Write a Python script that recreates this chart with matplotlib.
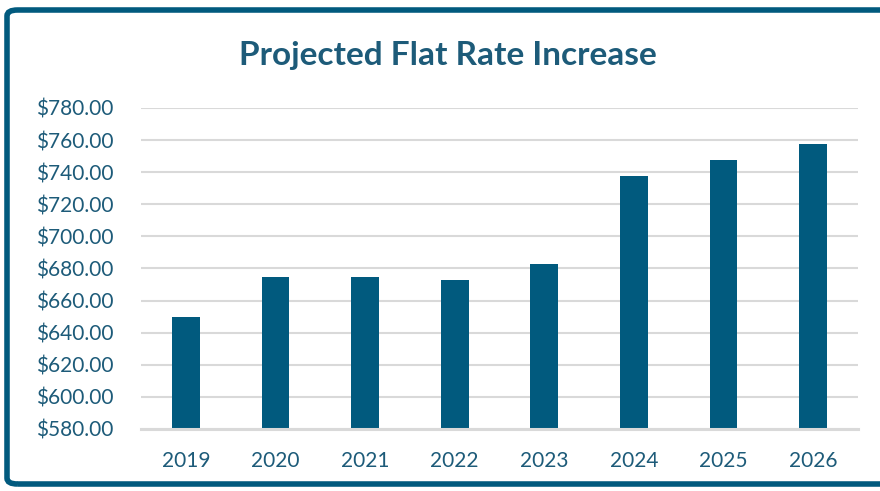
import matplotlib
matplotlib.use("Agg")
import matplotlib.pyplot as plt
from matplotlib.patches import FancyBboxPatch

years = ["2019", "2020", "2021", "2022", "2023", "2024", "2025", "2026"]
rates = [650, 675, 675, 673, 683, 737.5, 747.5, 757.5]
y_ticks = [580, 600, 620, 640, 660, 680, 700, 720, 740, 760, 780]

bar_color = "#015a7e"
text_color = "#1d5b79"
grid_color = "#d9d9d9"

plt.rcParams['font.family'] = ['Lato', 'DejaVu Sans']

fig = plt.figure(figsize=(8.8, 4.91), dpi=100)
ax = fig.add_axes([0.1602, 0.1263, 0.8148, 0.6538])

x = list(range(len(years)))
ax.bar(x, rates, width=0.31, color=bar_color, zorder=3)
ax.set_xlim(-0.5, len(years) - 0.5)
ax.set_ylim(580, 780)
ax.set_yticks(y_ticks)
ax.set_yticklabels([f"${v:,.2f}" for v in y_ticks])
ax.set_xticks(x)
ax.set_xticklabels(years)
ax.tick_params(axis='both', length=0, labelsize=15, labelcolor=text_color)
ax.tick_params(axis='y', pad=20)
ax.tick_params(axis='x', pad=16)
for s in ['top', 'right', 'left']:
    ax.spines[s].set_visible(False)
ax.spines['bottom'].set_color(grid_color)
ax.spines['bottom'].set_linewidth(2.2)
ax.spines['bottom'].set_zorder(4)
ax.grid(axis='y', color=grid_color, linewidth=1.5, zorder=0)
ax.set_axisbelow(True)

fig.text(0.509, 0.886, "Projected Flat Rate Increase", ha='center', va='center',
         fontsize=24, fontweight='bold', color=text_color)

border = FancyBboxPatch((7 / 880, 7 / 491), 1.2, 1 - 17 / 491,
                        boxstyle="round,pad=0,rounding_size=0.012",
                        transform=fig.transFigure, fill=False,
                        edgecolor=bar_color, linewidth=4, clip_on=False)
fig.patches.append(border)

fig.savefig("out.png", dpi=100)
